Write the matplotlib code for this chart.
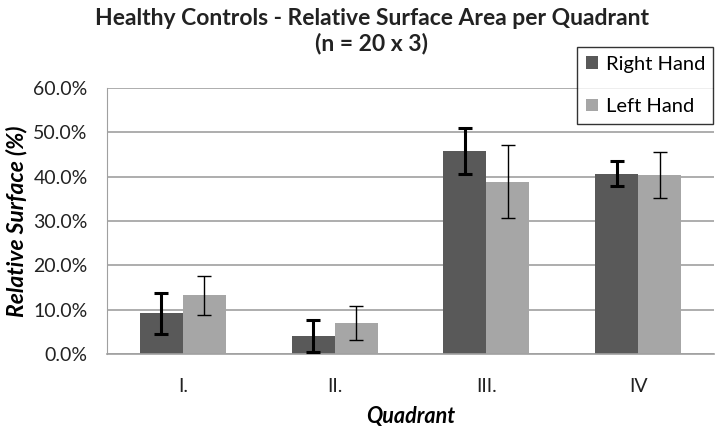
import matplotlib
matplotlib.use('Agg')
import matplotlib.pyplot as plt
from matplotlib.ticker import FuncFormatter
import numpy as np

plt.rcParams['font.family'] = ['Lato', 'DejaVu Sans']

quadrants = ['I.', 'II.', 'III.', 'IV']
right_hand = [9.2, 4.0, 45.8, 40.7]
right_err = [4.6, 3.6, 5.2, 2.9]
left_hand = [13.3, 7.0, 38.9, 40.4]
left_err = [4.4, 3.8, 8.2, 5.1]

fig = plt.figure(figsize=(7.19, 4.30), dpi=100)
ax = fig.add_axes([0.1488, 0.1767, 0.8442, 0.6186])

x = np.arange(len(quadrants))
w = 0.283
ax.bar(x - w/2, right_hand, w, color='#595959', label='Right Hand', zorder=2)
ax.bar(x + w/2, left_hand, w, color='#a6a6a6', label='Left Hand', zorder=2)
ax.errorbar(x - w/2, right_hand, yerr=right_err, fmt='none', ecolor='black',
            elinewidth=2.2, capsize=5, capthick=2.2, zorder=3)
ax.errorbar(x + w/2, left_hand, yerr=left_err, fmt='none', ecolor='black',
            elinewidth=1.0, capsize=5, capthick=1.0, zorder=3)

ax.set_xlim(-0.5, 3.5)
ax.set_ylim(0, 60)
ax.set_yticks(np.arange(0, 61, 10))
ax.yaxis.set_major_formatter(FuncFormatter(lambda v, p: '%.1f%%' % v))
ax.set_xticks(x)
ax.set_xticklabels(quadrants)
ax.grid(axis='y', color='#a0a0a0', lw=1.2, zorder=0)
ax.tick_params(length=0, labelsize=14, colors='#222222')
ax.tick_params(axis='y', pad=14)
ax.tick_params(axis='x', pad=17)
for s in ['top', 'right']:
    ax.spines[s].set_visible(False)
ax.spines['left'].set_color('#a0a0a0')
ax.spines['bottom'].set_color('#a0a0a0')
ax.spines['bottom'].set_linewidth(1.2)

ax.set_xlabel('Quadrant', fontsize=15.5, fontstyle='italic', fontweight='bold', labelpad=8)
ax.set_ylabel('Relative Surface (%)', fontsize=16.5, fontstyle='italic', fontweight='bold', labelpad=4)

fig.text(0.517, 0.982, 'Healthy Controls - Relative Surface Area per Quadrant\n(n = 20 x 3)',
         ha='center', va='top', fontsize=16.5, fontweight='bold', color='#222222',
         linespacing=1.2)

leg = ax.legend(loc='upper left', bbox_to_anchor=(0.8025, 0.714, 0.189, 0.177),
                bbox_transform=fig.transFigure, mode='expand', fontsize=14.5,
                frameon=True, fancybox=False, handlelength=0.6, handleheight=0.6,
                handletextpad=0.4, labelspacing=1.25, borderpad=0.45, borderaxespad=0)
leg.get_frame().set_edgecolor('black')
leg.get_frame().set_linewidth(1.0)

fig.savefig('out.png', dpi=100)
